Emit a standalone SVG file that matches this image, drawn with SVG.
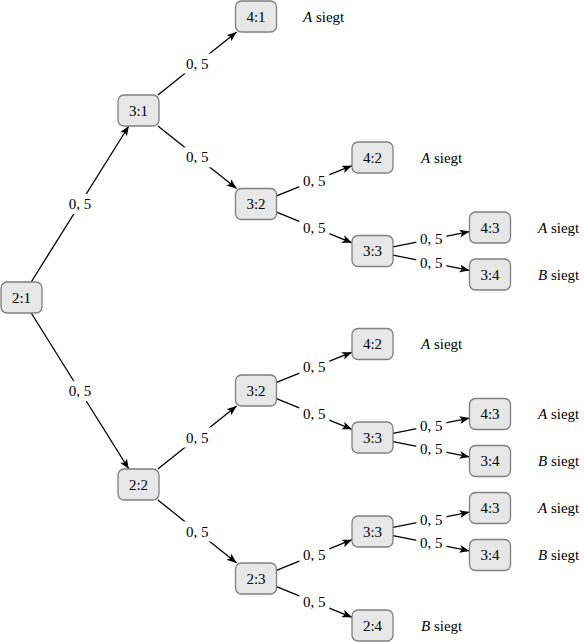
<svg xmlns="http://www.w3.org/2000/svg" width="584" height="642" viewBox="0 0 584 642" font-family="'Liberation Serif', 'Times New Roman', Times, 'DejaVu Serif', serif">
<defs>
<style>
.node rect{fill:#e7e7e7;stroke:#7f7f7f;stroke-width:1.3}
.node text{font-size:15px;text-anchor:middle;fill:#000}
.edge line{stroke:#000;stroke-width:1.3;marker-end:url(#arr)}
.lbl rect{fill:#fff}
.lbl text,.out{font-size:15px;fill:#000}
.lbl text{text-anchor:middle}
.out tspan.i{font-style:italic}
</style>
<marker id="arr" markerUnits="userSpaceOnUse" markerWidth="11" markerHeight="9" refX="10" refY="4" orient="auto">
<path d="M0,0 L10,4 L0,8 L2.5,4 Z" fill="#000"/>
</marker>
</defs>
<rect width="584" height="642" fill="#fff"/>
<g id="connectors">
<g class="edge">
<line x1="31.2" y1="282" x2="128.8" y2="126"/>
<line x1="31.2" y1="313" x2="128.8" y2="469"/>
<line x1="157.9" y1="95" x2="236.6" y2="32"/>
<line x1="157.9" y1="126" x2="236.6" y2="188.5"/>
<line x1="276.5" y1="195.8" x2="352" y2="165.7"/>
<line x1="276.5" y1="212.2" x2="352" y2="242.8"/>
<line x1="393" y1="246.9" x2="469.5" y2="231.6"/>
<line x1="393" y1="255.1" x2="469.5" y2="270.4"/>
<line x1="157.9" y1="469" x2="236.6" y2="406"/>
<line x1="157.9" y1="500" x2="236.6" y2="563"/>
<line x1="276.5" y1="382.3" x2="352" y2="352.2"/>
<line x1="276.5" y1="398.7" x2="352" y2="429.3"/>
<line x1="393" y1="433.4" x2="469.5" y2="418.1"/>
<line x1="393" y1="441.6" x2="469.5" y2="456.9"/>
<line x1="276.5" y1="570.3" x2="352" y2="539.7"/>
<line x1="276.5" y1="586.7" x2="352" y2="617.3"/>
<line x1="393" y1="527.4" x2="469.5" y2="512.1"/>
<line x1="393" y1="535.6" x2="469.5" y2="550.9"/>
</g>
<g class="lbl">
<rect x="65" y="194" width="30" height="20"/><text x="80" y="209">0, 5</text>
<rect x="65" y="381" width="30" height="20"/><text x="80" y="396">0, 5</text>
<rect x="182.3" y="53.5" width="30" height="20"/><text x="197.3" y="68.5">0, 5</text>
<rect x="182.3" y="147.3" width="30" height="20"/><text x="197.3" y="162.3">0, 5</text>
<rect x="299.3" y="171" width="30" height="19"/><text x="314.3" y="185.8">0, 5</text>
<rect x="299.3" y="218" width="30" height="19"/><text x="314.3" y="232.5">0, 5</text>
<rect x="416.3" y="231" width="30" height="16"/><text x="431.3" y="244.2">0, 5</text>
<rect x="416.3" y="255" width="30" height="16"/><text x="431.3" y="267.8">0, 5</text>
<rect x="182.3" y="427.5" width="30" height="20"/><text x="197.3" y="442.5">0, 5</text>
<rect x="182.3" y="521.5" width="30" height="20"/><text x="197.3" y="536.5">0, 5</text>
<rect x="299.3" y="358" width="30" height="19"/><text x="314.3" y="372.3">0, 5</text>
<rect x="299.3" y="404.5" width="30" height="19"/><text x="314.3" y="419">0, 5</text>
<rect x="416.3" y="418" width="30" height="16"/><text x="431.3" y="430.8">0, 5</text>
<rect x="416.3" y="441.5" width="30" height="16"/><text x="431.3" y="454.3">0, 5</text>
<rect x="299.3" y="545.5" width="30" height="19"/><text x="314.3" y="560">0, 5</text>
<rect x="299.3" y="592.5" width="30" height="19"/><text x="314.3" y="607">0, 5</text>
<rect x="416.3" y="512" width="30" height="16"/><text x="431.3" y="524.8">0, 5</text>
<rect x="416.3" y="535.5" width="30" height="16"/><text x="431.3" y="548.3">0, 5</text>
</g>
</g>
<g id="n21" class="node"><rect x="1" y="282" width="41" height="31" rx="6"/><text x="21.5" y="302.5">2:1</text></g>
<g id="n31" class="node"><rect x="118" y="95" width="41" height="31" rx="6"/><text x="138.5" y="115.5">3:1</text></g>
<g id="n41" class="node"><rect x="235.5" y="1" width="41" height="31" rx="6"/><text x="256" y="21.5">4:1</text></g>
<g id="n32a" class="node"><rect x="235.5" y="188.5" width="41" height="31" rx="6"/><text x="256" y="209">3:2</text></g>
<g id="n42a" class="node"><rect x="352" y="142" width="41" height="31" rx="6"/><text x="372.5" y="162.5">4:2</text></g>
<g id="n33a" class="node"><rect x="352" y="235.5" width="41" height="31" rx="6"/><text x="372.5" y="256">3:3</text></g>
<g id="n43a" class="node"><rect x="469.5" y="212" width="41" height="31" rx="6"/><text x="490" y="232.5">4:3</text></g>
<g id="n34a" class="node"><rect x="469.5" y="259" width="41" height="31" rx="6"/><text x="490" y="279.5">3:4</text></g>
<g id="n22" class="node"><rect x="118" y="469" width="41" height="31" rx="6"/><text x="138.5" y="489.5">2:2</text></g>
<g id="n32b" class="node"><rect x="235.5" y="375" width="41" height="31" rx="6"/><text x="256" y="395.5">3:2</text></g>
<g id="n42b" class="node"><rect x="352" y="328.5" width="41" height="31" rx="6"/><text x="372.5" y="349">4:2</text></g>
<g id="n33b" class="node"><rect x="352" y="422" width="41" height="31" rx="6"/><text x="372.5" y="442.5">3:3</text></g>
<g id="n43b" class="node"><rect x="469.5" y="398.5" width="41" height="31" rx="6"/><text x="490" y="419">4:3</text></g>
<g id="n34b" class="node"><rect x="469.5" y="445.5" width="41" height="31" rx="6"/><text x="490" y="466">3:4</text></g>
<g id="n23" class="node"><rect x="235.5" y="563" width="41" height="31" rx="6"/><text x="256" y="583.5">2:3</text></g>
<g id="n33c" class="node"><rect x="352" y="516" width="41" height="31" rx="6"/><text x="372.5" y="536.5">3:3</text></g>
<g id="n43c" class="node"><rect x="469.5" y="492.5" width="41" height="31" rx="6"/><text x="490" y="513">4:3</text></g>
<g id="n34c" class="node"><rect x="469.5" y="539.5" width="41" height="31" rx="6"/><text x="490" y="560">3:4</text></g>
<g id="n24" class="node"><rect x="352" y="610" width="41" height="31" rx="6"/><text x="372.5" y="630.5">2:4</text></g>
<g id="outcomes">
<text class="out" x="303" y="21.5"><tspan class="i">A</tspan> siegt</text>
<text class="out" x="421" y="162.5"><tspan class="i">A</tspan> siegt</text>
<text class="out" x="538" y="232.5"><tspan class="i">A</tspan> siegt</text>
<text class="out" x="538" y="279.5"><tspan class="i">B</tspan> siegt</text>
<text class="out" x="421" y="349"><tspan class="i">A</tspan> siegt</text>
<text class="out" x="538" y="419"><tspan class="i">A</tspan> siegt</text>
<text class="out" x="538" y="466"><tspan class="i">B</tspan> siegt</text>
<text class="out" x="538" y="513"><tspan class="i">A</tspan> siegt</text>
<text class="out" x="538" y="560"><tspan class="i">B</tspan> siegt</text>
<text class="out" x="421" y="630.5"><tspan class="i">B</tspan> siegt</text>
</g>
</svg>
